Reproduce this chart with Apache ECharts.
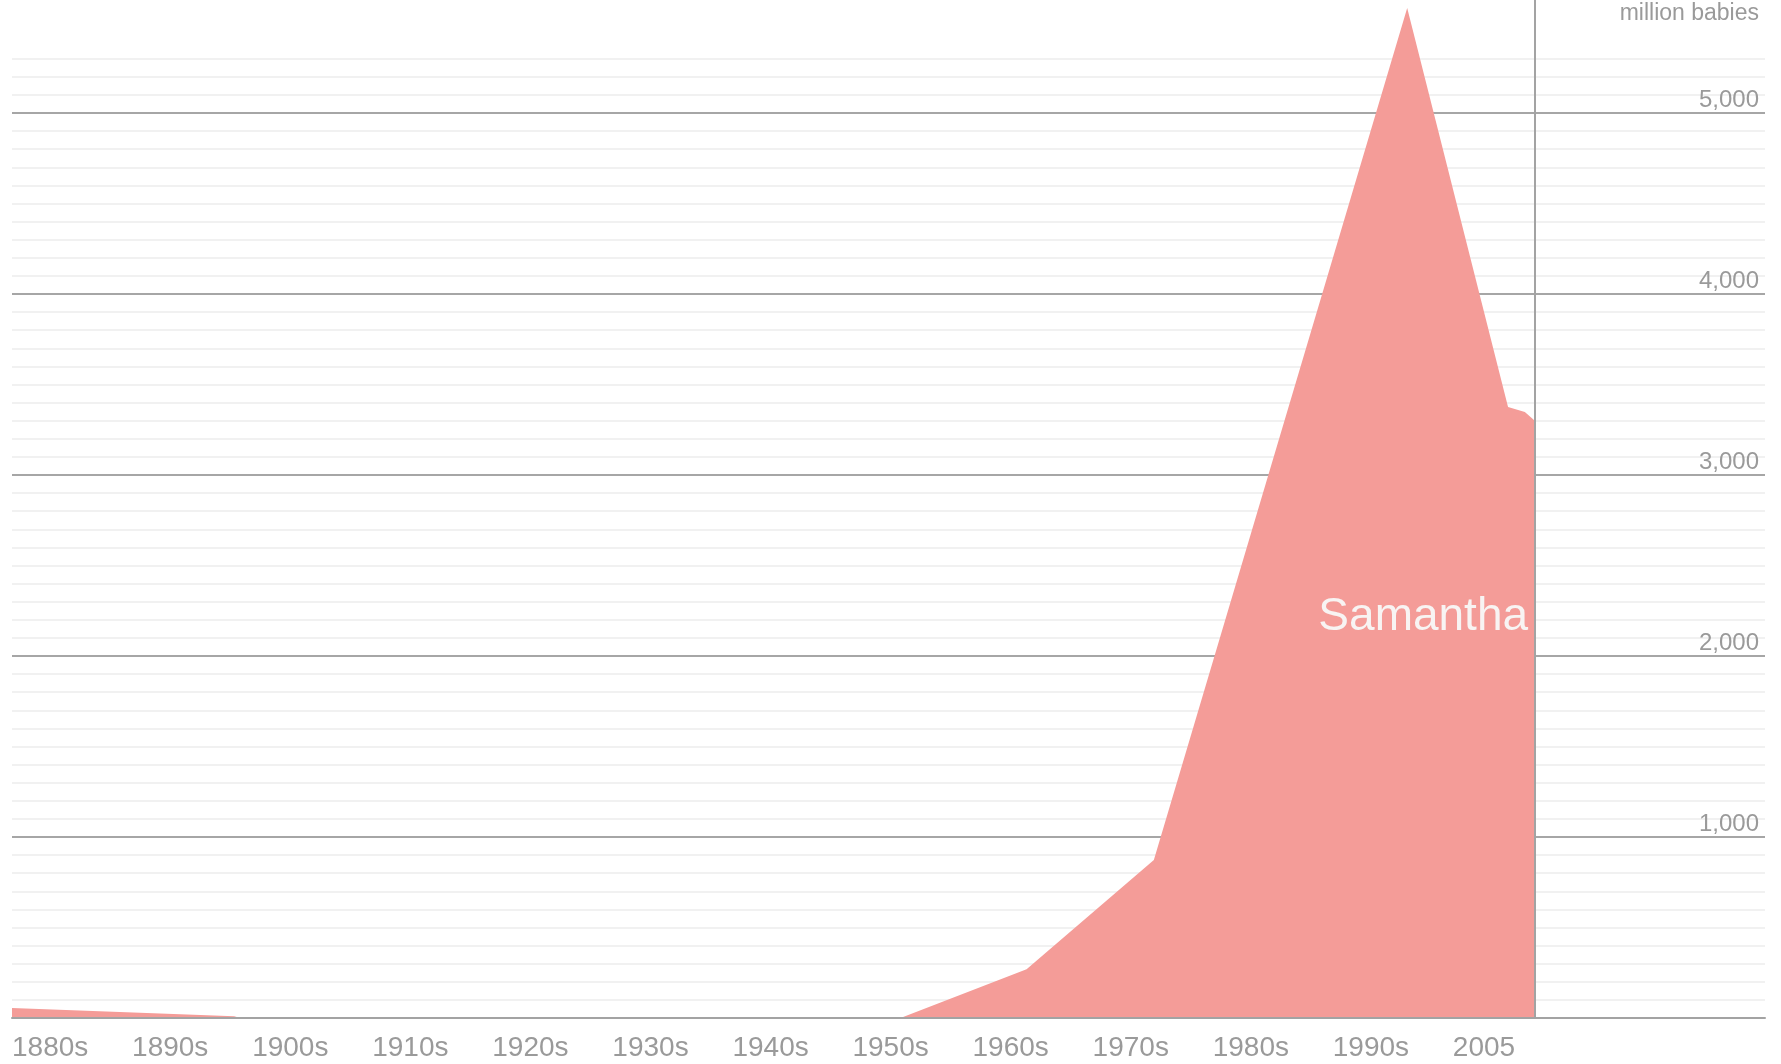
<!DOCTYPE html>
<html><head><meta charset="utf-8">
<script src="https://cdn.jsdelivr.net/npm/echarts@6/dist/echarts.min.js"></script>
<style>html,body{margin:0;padding:0;background:#fff;overflow:hidden}#c{width:1781px;height:1064px}</style>
</head><body><div id="c"></div>
<script>
// ---- data ----
const years  = [1880, 1898.5, 1899, 1954, 1964.5, 1975.1, 1996.2, 2004.6, 2006.0, 2006.85];
const babies = [55,   9,      0,    0,    269,    873,    5580,   3376,   3348,   3298];
const xTickYears  = [1880, 1890, 1900, 1910, 1920, 1930, 1940, 1950, 1960, 1970, 1980, 1990, 2000];
const xTickLabels = ['1880s','1890s','1900s','1910s','1920s','1930s','1940s','1950s','1960s','1970s','1980s','1990s','2005'];
const yMajorStep = 1000;
const yMinorStep = 100;
const yMinorTop = 5300;
const yMax = 5624;
const xMin = 1880, xMax = 2026;
const seriesName = 'Samantha';
const unitLabel = 'million babies';

const FONT = "'Liberation Sans', Arial, sans-serif";
const GRID = {left: 12, right: 16, top: 0, bottom: 46};
const plotH = 1064 - GRID.top - GRID.bottom;
const minorGridTop = plotH * (1 - yMinorTop / yMax);

const chart = echarts.init(document.getElementById('c'), null, {renderer: 'canvas'});
const fmt = v => String(v).replace(/\B(?=(\d{3})+(?!\d))/g, ',');

chart.setOption({
  animation: false,
  backgroundColor: '#ffffff',
  grid: [
    {left: GRID.left, right: GRID.right, top: GRID.top, bottom: GRID.bottom},
    {left: GRID.left, right: GRID.right, top: minorGridTop, bottom: GRID.bottom}
  ],
  xAxis: [
    {
      type: 'value', gridIndex: 0, min: xMin, max: xMax, interval: 10, z: 3,
      axisLine: {show: true, onZero: false, lineStyle: {color: '#a3a3a3', width: 2}},
      axisTick: {show: false},
      splitLine: {show: false},
      axisLabel: {
        show: true, align: 'left', margin: 16, fontSize: 28, color: '#9a9a9a', fontFamily: FONT,
        showMaxLabel: false,
        formatter: v => { const i = xTickYears.indexOf(v); return i >= 0 ? xTickLabels[i] : ''; }
      }
    },
    {
      type: 'value', gridIndex: 1, min: xMin, max: xMax, show: false
    }
  ],
  yAxis: [
    {
      type: 'value', gridIndex: 0, min: 0, max: yMax, interval: yMajorStep, position: 'right', z: 1,
      axisLine: {show: false}, axisTick: {show: false},
      splitLine: {show: true, showMinLine: false, showMaxLine: false, lineStyle: {color: '#a6a6a6', width: 2}},
      axisLabel: {
        inside: true, margin: 6, verticalAlign: 'bottom', padding: [0, 0, 1, 0],
        fontSize: 24, color: '#9a9a9a', fontFamily: FONT,
        showMinLabel: false, showMaxLabel: false,
        formatter: v => (v > 0 && v % yMajorStep === 0) ? fmt(v) : ''
      }
    },
    {
      type: 'value', gridIndex: 1, min: 0, max: yMinorTop, interval: yMinorStep, z: 0,
      axisLine: {show: false}, axisTick: {show: false}, axisLabel: {show: false},
      splitLine: {show: true, showMinLine: false, lineStyle: {color: '#f1f1f1', width: 2}}
    }
  ],
  series: [{
    name: seriesName,
    type: 'line',
    xAxisIndex: 0, yAxisIndex: 0,
    data: years.map((y, i) => [y, babies[i]]),
    showSymbol: false,
    smooth: false,
    lineStyle: {width: 0},
    areaStyle: {color: '#f49c98', opacity: 1},
    z: 2,
    markLine: {
      silent: true, symbol: ['none', 'none'],
      label: {show: false},
      lineStyle: {color: '#a3a3a3', width: 2, type: 'solid'},
      data: [{xAxis: years[years.length - 1]}]
    }
  }]
});

const endX = chart.convertToPixel({xAxisIndex: 0}, years[years.length - 1]);
const labelY = chart.convertToPixel({yAxisIndex: 0}, 2215);
chart.setOption({
  graphic: [
    {
      type: 'text', right: GRID.right + 6, top: 2, z: 10,
      style: {text: unitLabel, fontSize: 23, fill: '#9a9a9a', fontFamily: FONT}
    },
    {
      type: 'text', x: endX - 7, y: labelY, z: 10,
      style: {text: seriesName, fontSize: 46, fill: '#f8f4f3', fontFamily: FONT, align: 'right', verticalAlign: 'middle'}
    }
  ]
});
</script>
</body></html>
